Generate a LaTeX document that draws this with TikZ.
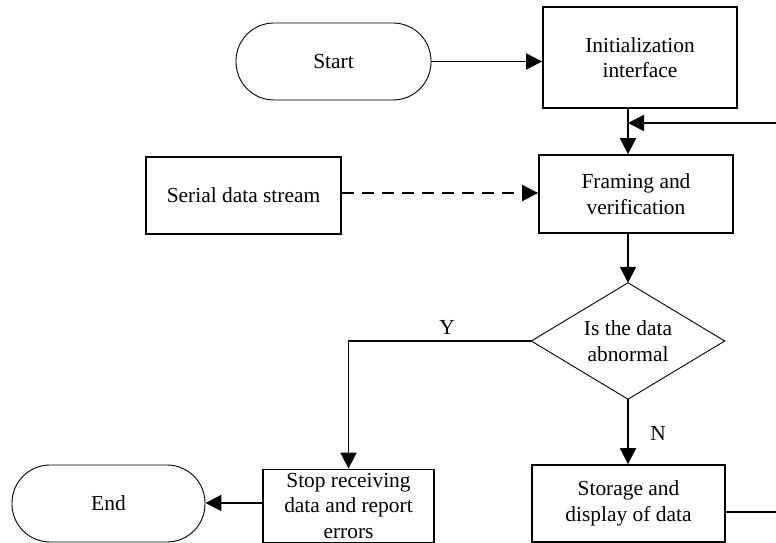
\documentclass[tikz,border=0pt]{standalone}
\usepackage{fontspec}
\setmainfont{Liberation Serif}
\usetikzlibrary{arrows.meta}
\begin{document}
\begin{tikzpicture}[x=1bp,y=-1bp,
  box/.style={draw,line width=1.8bp,rectangle,inner sep=0pt,align=center,
    font=\fontsize{21.5}{25.5}\selectfont},
  term/.style={draw,line width=0.9bp,rectangle,rounded corners=38bp,inner sep=0pt,align=center,
    font=\fontsize{21.5}{25.5}\selectfont},
  lab/.style={inner sep=0pt,font=\fontsize{21.5}{25.5}\selectfont},
  arr/.style={line width=1.9bp,-{Triangle[length=16bp,width=16bp]}},
  ln/.style={line width=1.9bp}]
\path[use as bounding box,clip] (0,0) rectangle (776,543);
\node[term,minimum width=195bp,minimum height=77bp] (start) at (333.5,61.5) {Start};
\node[box,minimum width=194bp,minimum height=101bp] (init) at (640,57.5) {Initialization\\interface};
\node[box,minimum width=195bp,minimum height=77bp] (ser) at (243.5,195.5) {Serial data stream};
\node[box,minimum width=194bp,minimum height=78bp] (frm) at (636,194) {Framing and\\verification};
\node[inner sep=0pt,minimum width=193bp,minimum height=116bp,align=center,
  font=\fontsize{21.5}{25.5}\selectfont] (dia) at (628,341) {Is the data\\abnormal};
\draw[line width=0.9bp] (dia.north) -- (dia.east) -- (dia.south) -- (dia.west) -- cycle;
\node[box,minimum width=171bp,minimum height=73bp] (stop) at (348.5,506) {Stop receiving\\data and report\\errors};
\node[term,minimum width=193bp,minimum height=77bp] (end) at (108.5,503.5) {End};
\node[box,minimum width=193bp,minimum height=77bp] (sto) at (628.5,503.5) {Storage and\\display of data};
\coordinate (loopR) at (800,512);
\coordinate (loopT) at (800,123);
\draw[arr] (start.east) -- (start.east -| init.west);
\draw[arr] (init.south -| dia.north) -- (frm.north -| dia.north);
\draw[arr,dashed,dash pattern=on 12bp off 8bp] (ser.east |- 0,193) -- (frm.west |- 0,193);
\draw[arr] (frm.south -| dia.north) -- (dia.north);
\draw[arr] (dia.west) -- (dia.west -| stop.north) -- (stop.north);
\node[lab] (y) at (447,327) {Y};
\draw[arr] (dia.south) -- (sto.north -| dia.south);
\node[lab] (n) at (658,433) {N};
\draw[arr] (stop.west |- 0,503) -- (end.east |- 0,503);
\draw[ln] (sto.east |- 0,512) -- (loopR) -- (loopT);
\draw[arr] (loopT) -- (loopT -| dia.north);
\end{tikzpicture}
\end{document}
